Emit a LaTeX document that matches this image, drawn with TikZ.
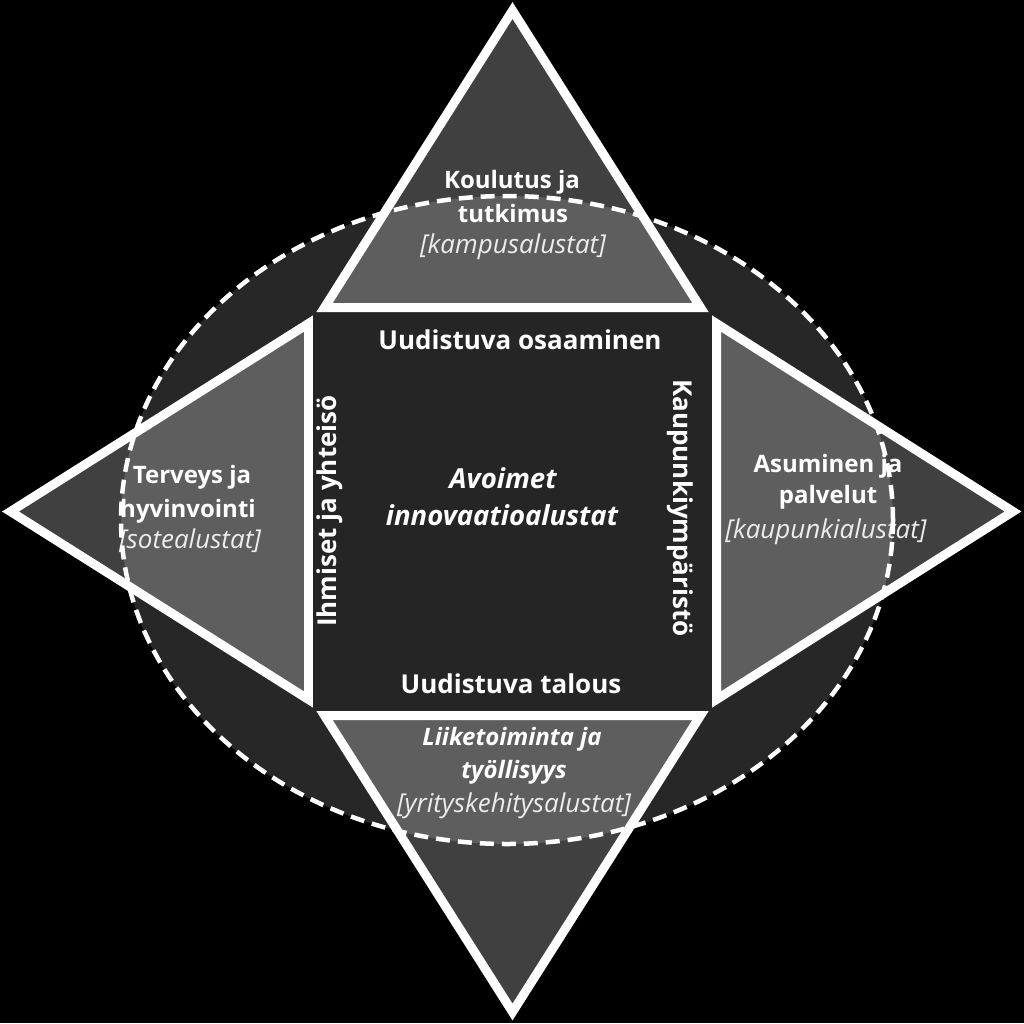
\documentclass[tikz,border=0pt]{standalone}
\usepackage{fontspec}
\setmainfont{Open Sans}
\begin{document}
\begin{tikzpicture}[x=1pt,y=-1pt,
  triline/.style={draw=white,line width=9pt,line join=miter},
  bigtxt/.style={text=white,font=\fontsize{26}{30}\selectfont\bfseries,inner sep=0pt,anchor=base},
  bigit/.style={text=white,font=\fontsize{27.5}{30}\selectfont\bfseries\itshape,inner sep=0pt,anchor=base},
  tribold/.style={text=white,font=\fontsize{24}{28}\selectfont\bfseries,inner sep=0pt,anchor=base},
  tribit/.style={text=white,font=\fontsize{24}{28}\selectfont\bfseries\itshape,inner sep=0pt,anchor=base},
  triit/.style={text=itcol,font=\fontsize{26}{28}\selectfont\itshape,inner sep=0pt,anchor=base},
]
\definecolor{tridark}{HTML}{404040}
\definecolor{trilight}{HTML}{5E5E5E}
\definecolor{ellfill}{HTML}{272727}
\definecolor{sqfill}{HTML}{252525}
\definecolor{itcol}{HTML}{EDEDED}
\useasboundingbox (0,0) rectangle (1024,1023);
\fill[black] (0,0) rectangle (1024,1023);
% ellipse fill
\fill[ellfill] (507,520) ellipse [x radius=386, y radius=324];
% triangle corner points
\coordinate (tA) at (512.5,10.5);  \coordinate (tL) at (324.5,307.5); \coordinate (tR) at (700.5,307.5);
\coordinate (bA) at (512.5,1012); \coordinate (bL) at (324.5,715.5); \coordinate (bR) at (700.5,715.5);
\coordinate (lA) at (10.5,511.5);  \coordinate (lT) at (308.5,323.5); \coordinate (lB) at (308.5,699.5);
\coordinate (rA) at (1013,511.5);  \coordinate (rT) at (716.5,323.5); \coordinate (rB) at (716.5,699.5);
% dark fills
\fill[tridark] (tA) -- (tL) -- (tR) -- cycle;
\fill[tridark] (bA) -- (bL) -- (bR) -- cycle;
\fill[tridark] (lA) -- (lT) -- (lB) -- cycle;
\fill[tridark] (rA) -- (rT) -- (rB) -- cycle;
% light fills inside ellipse
\begin{scope}
  \clip (507,520) ellipse [x radius=386, y radius=324];
  \fill[trilight] (tA) -- (tL) -- (tR) -- cycle;
  \fill[trilight] (bA) -- (bL) -- (bR) -- cycle;
  \fill[trilight] (lA) -- (lT) -- (lB) -- cycle;
  \fill[trilight] (rA) -- (rT) -- (rB) -- cycle;
\end{scope}
% white outlines
\draw[triline] (tA) -- (tL) -- (tR) -- cycle;
\draw[triline] (bA) -- (bL) -- (bR) -- cycle;
\draw[triline] (lA) -- (lT) -- (lB) -- cycle;
\draw[triline] (rA) -- (rT) -- (rB) -- cycle;
% central square
\fill[sqfill] (313,313) rectangle (712,710);
% square texts
\node[bigtxt] (osa) at (520,349) {Uudistuva osaaminen};
\node[bigtxt] (tal) at (511,693) {Uudistuva talous};
\node[bigit] (avo1) at (503,488) {Avoimet};
\node[bigit] (avo2) at (502,525) {innovaatioalustat};
\node[bigtxt,rotate=90] (ihm) at (336,511) {Ihmiset ja yhteisö};
\node[bigtxt,rotate=-90] (kau) at (673,508) {Kaupunkiympäristö};
% top triangle
\node[tribold] (kou1) at (512,188) {Koulutus ja};
\node[tribold] (kou2) at (513,222) {tutkimus};
\node[triit] (kou3) at (513,253) {[kampusalustat]};
% left triangle
\node[tribold] (ter1) at (192,483) {Terveys ja};
\node[tribold] (ter2) at (188,517) {hyvinvointi};
\node[triit] (ter3) at (190,548) {[sotealustat]};
% right triangle
\node[tribold] (asu1) at (828,472) {Asuminen ja};
\node[tribold] (asu2) at (828,503) {palvelut};
\node[triit] (asu3) at (826,538) {[kaupunkialustat]};
% bottom triangle
\node[tribit] (lii1) at (512,745) {Liiketoiminta ja};
\node[tribit] (lii2) at (514,778) {työllisyys};
\node[triit] (lii3) at (514,812) {[yrityskehitysalustat]};
% dashed ellipse
\draw[white,line width=4.5pt,dash pattern=on 14pt off 8pt] (507,520) ellipse [x radius=386, y radius=324];
\end{tikzpicture}
\end{document}
